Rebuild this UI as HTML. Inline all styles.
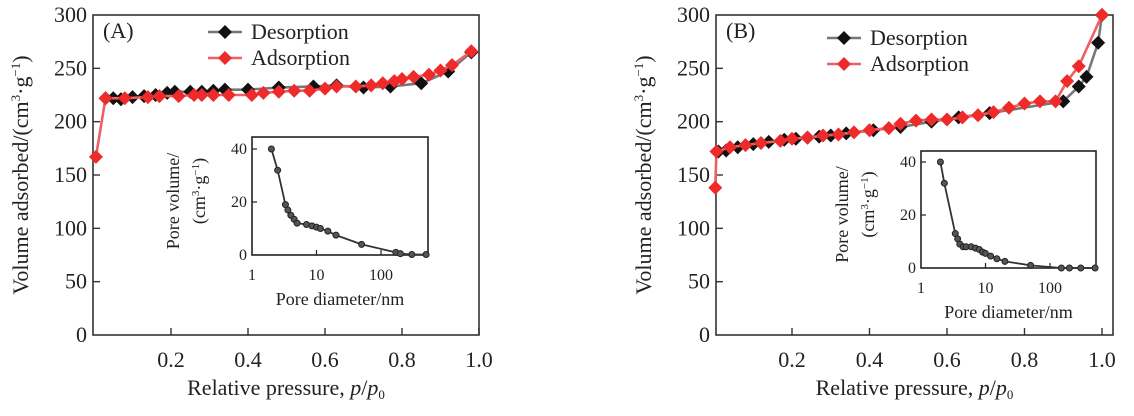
<!DOCTYPE html>
<html><head><meta charset="utf-8">
<style>
html,body{margin:0;padding:0;background:#fff;}
svg{display:block;font-family:"Liberation Serif",serif;}
</style></head>
<body>
<svg id="chart" width="1134" height="416" viewBox="0 0 1134 416" xmlns="http://www.w3.org/2000/svg"></svg>
<script>
// ---- Panel A data ----
const aDesX=[0.03,0.05,0.07,0.1,0.13,0.16,0.19,0.21,0.25,0.28,0.31,0.34,0.40,0.48,0.57,0.63,0.70,0.77,0.85,0.92,0.98];
const aDesY=[222,222,221,223,224,225,227,228,228,228,229,230,230,232,233,234,232,233,236,247,265];
const aAdsX=[0.005,0.03,0.08,0.14,0.17,0.22,0.26,0.28,0.31,0.35,0.41,0.44,0.48,0.52,0.56,0.60,0.63,0.68,0.72,0.75,0.78,0.80,0.83,0.87,0.90,0.93,0.98];
const aAdsY=[167,222,222,223,224,224,225,225,225,225,225,227,228,229,229,231,233,233,234,236,238,240,242,244,248,253,266];
const aPoreD=[2,2.5,3.3,3.6,4,4.5,5,7,8.5,10,11.5,15,20,50,170,200,300,500];
const aPoreV=[40,32,19,17,15,13.5,12,11.5,11,10.5,10,9,7.5,4,1,0.5,0.2,0.2];
// ---- Panel B data ----
const bDesX=[0.01,0.03,0.06,0.1,0.14,0.18,0.21,0.24,0.27,0.3,0.34,0.41,0.48,0.56,0.63,0.71,0.90,0.94,0.96,0.99,1.0];
const bDesY=[172,173,176,179,181,183,184,185,186,187,189,192,195,200,204,208,219,233,242,274,300];
const bAdsX=[0.002,0.005,0.04,0.08,0.12,0.17,0.2,0.24,0.28,0.32,0.36,0.4,0.45,0.48,0.52,0.56,0.60,0.64,0.68,0.72,0.76,0.8,0.84,0.88,0.91,0.94,1.0];
const bAdsY=[138,172,176,178,180,182,184,185,187,188,190,192,194,198,201,202,202,204,206,209,213,217,219,219,238,252,300];
const bPoreD=[2,2.3,3.4,3.7,4,4.5,5,6,7,8,9,10,12,15,20,50,150,200,300,500];
const bPoreV=[40,32,13,11,9,8,8,8,7.5,7,6,5.5,4.5,3.5,2.5,1,0,0,0,0];
const xTicks=["0.2","0.4","0.6","0.8","1.0"];
const yTicks=["0","50","100","150","200","250","300"];
const inYTicks=["0","20","40"];
const inXTicks=["1","10","100"];

const NS="http://www.w3.org/2000/svg";
const svg=document.getElementById('chart');
function el(tag,attrs,parent,text){const e=document.createElementNS(NS,tag);for(const k in attrs)e.setAttribute(k,attrs[k]);if(text!==undefined)e.textContent=text;(parent||svg).appendChild(e);return e;}

function panel(P){
  const g=el('g',{});
  
  
  const sx=v=>P.x0+(v)*(P.x1-P.x0);
  const sy=v=>P.yb-(v/300)*(P.yb-P.yt);
  const box=el('rect',{x:P.bx,y:P.yt,width:P.bx2-P.bx,height:P.yb-P.yt,fill:'none',stroke:'#333','stroke-width':1.6},g);
  
  yTicks.forEach(t=>{const v=+t,y=sy(v);
    if(v>0&&v<300)el('line',{x1:P.bx,x2:P.bx+7,y1:y,y2:y,stroke:'#333','stroke-width':1.4},g);
    const tx=el('text',{x:P.bx-6,y:y+7,'text-anchor':'end','font-size':22,fill:'#222'},g,t);
    });
  xTicks.forEach(t=>{const x=sx(+t);
    el('line',{x1:x,x2:x,y1:P.yb,y2:P.yb-7,stroke:'#333','stroke-width':1.4},g);
    const tx=el('text',{x:x,y:P.yb+32,'text-anchor':'middle','font-size':22,fill:'#222'},g,t);
    });
  const yt=el('text',{transform:`translate(${P.bx-65},${(P.yt+P.yb)/2}) rotate(-90)`,'text-anchor':'middle','font-size':22,fill:'#222'},g);
  yt.innerHTML='Volume adsorbed/(cm<tspan font-size="13" dy="-8">3</tspan><tspan dy="8">·g</tspan><tspan font-size="13" dy="-8">−1</tspan><tspan dy="8">)</tspan>';
  
  const xt=el('text',{x:(P.bx+P.bx2)/2,y:P.yb+60,'text-anchor':'middle','font-size':22,fill:'#222'},g);
  xt.innerHTML='Relative pressure, <tspan font-style="italic">p</tspan>/<tspan font-style="italic">p</tspan><tspan font-size="13" dy="4">0</tspan>';
  
  const lab=el('text',{x:P.bx+10,y:P.yt+23,'font-size':22,fill:'#222'},g,P.label);
  
  function series(X,Y,col,lcol,nm){
    const sg=el('g',{},g);
    el('polyline',{points:X.map((x,i)=>sx(x)+','+sy(Y[i])).join(' '),fill:'none',stroke:lcol,'stroke-width':2.6},sg);
    X.forEach((x,i)=>{const cx=sx(x),cy=sy(Y[i]);
      const m=el('polygon',{points:`${cx},${cy-7} ${cx+7},${cy} ${cx},${cy+7} ${cx-7},${cy}`,fill:col},sg);
      });
  }
  series(P.dx,P.dy,'#111','#777','desorption-series');
  series(P.ax,P.ay,'#ee2a2a','#f06060','adsorption-series');
  const lg=el('g',{},g);
  [[P.legY,'#111','#777','Desorption'],[P.legY+26,'#ee2a2a','#f06060','Adsorption']].forEach(([y,c,lc,t])=>{
    const e=el('g',{},lg);
    el('line',{x1:P.legX,x2:P.legX+34,y1:y,y2:y,stroke:lc,'stroke-width':2.6},e);
    const cx=P.legX+17;el('polygon',{points:`${cx},${y-7} ${cx+7},${y} ${cx},${y+7} ${cx-7},${y}`,fill:c},e);
    el('text',{x:P.legX+43,y:y+7,'font-size':22,fill:'#222'},e,t);});
  const I=P.inset;
  const ig=el('g',{},g);
  const ix=d=>I.x0+Math.log10(d)*I.dec;
  const iy=v=>I.yb-(v/40)*(I.yb-I.y40);
  el('rect',{x:I.x0,y:I.yt,width:I.x1-I.x0,height:I.yb-I.yt,fill:'#fff',stroke:'#222','stroke-width':1.6},ig);
  inYTicks.forEach(t=>{const y=iy(+t);
    if(+t>0)el('line',{x1:I.x0,x2:I.x0+5,y1:y,y2:y,stroke:'#222','stroke-width':1.2},ig);
    const tx=el('text',{x:I.x0-5,y:y+5,'text-anchor':'end','font-size':16,fill:'#222'},ig,t);
    });
  inXTicks.forEach(t=>{const x=ix(+t);
    if(+t>1)el('line',{x1:x,x2:x,y1:I.yb,y2:I.yb-5,stroke:'#222','stroke-width':1.2},ig);
    const tx=el('text',{x:x,y:I.yb+25,'text-anchor':'middle','font-size':16,fill:'#222'},ig,t);
    });
  const ixt=el('text',{x:(I.x0+I.x1)/2,y:I.yb+50,'text-anchor':'middle','font-size':18,fill:'#222'},ig,'Pore diameter/nm');
  
  const iyt=el('text',{transform:`translate(${I.x0-73},${(I.yt+I.yb)/2+5}) rotate(-90)`,'text-anchor':'middle','font-size':18,fill:'#222'},ig,'Pore volume/');
  
  const iyt2=el('text',{transform:`translate(${I.x0-47},${(I.yt+I.yb)/2-5}) rotate(-90)`,'text-anchor':'middle','font-size':18,fill:'#222'},ig);
  iyt2.innerHTML='(cm<tspan font-size="11" dy="-6">3</tspan><tspan dy="6">·g</tspan><tspan font-size="11" dy="-6">−1</tspan><tspan dy="6">)</tspan>';
  
  const ps=el('g',{},ig);
  el('polyline',{points:I.d.map((d,i)=>ix(d)+','+iy(I.v[i])).join(' '),fill:'none',stroke:'#333','stroke-width':1.8},ps);
  I.d.forEach((d,i)=>{const c=el('circle',{cx:ix(d),cy:iy(I.v[i]),r:3,fill:'#555',stroke:'#222','stroke-width':1},ps);
    });
}
panel({name:'panel-a',label:'(A)',bx:93,bx2:479,x0:94,x1:479,yt:15,yb:335,legX:208,legY:32,
  dx:aDesX,dy:aDesY,ax:aAdsX,ay:aAdsY,
  inset:{x0:252,x1:428,yt:137,yb:255,y40:149,dec:64.5,d:aPoreD,v:aPoreV}});
panel({name:'panel-b',label:'(B)',bx:716,bx2:1113,x0:714.5,x1:1102,yt:15,yb:335,legX:827,legY:38,
  dx:bDesX,dy:bDesY,ax:bAdsX,ay:bAdsY,
  inset:{x0:921,x1:1096,yt:151,yb:268,y40:162,dec:64.5,d:bPoreD,v:bPoreV}});
</script>
</body></html>
